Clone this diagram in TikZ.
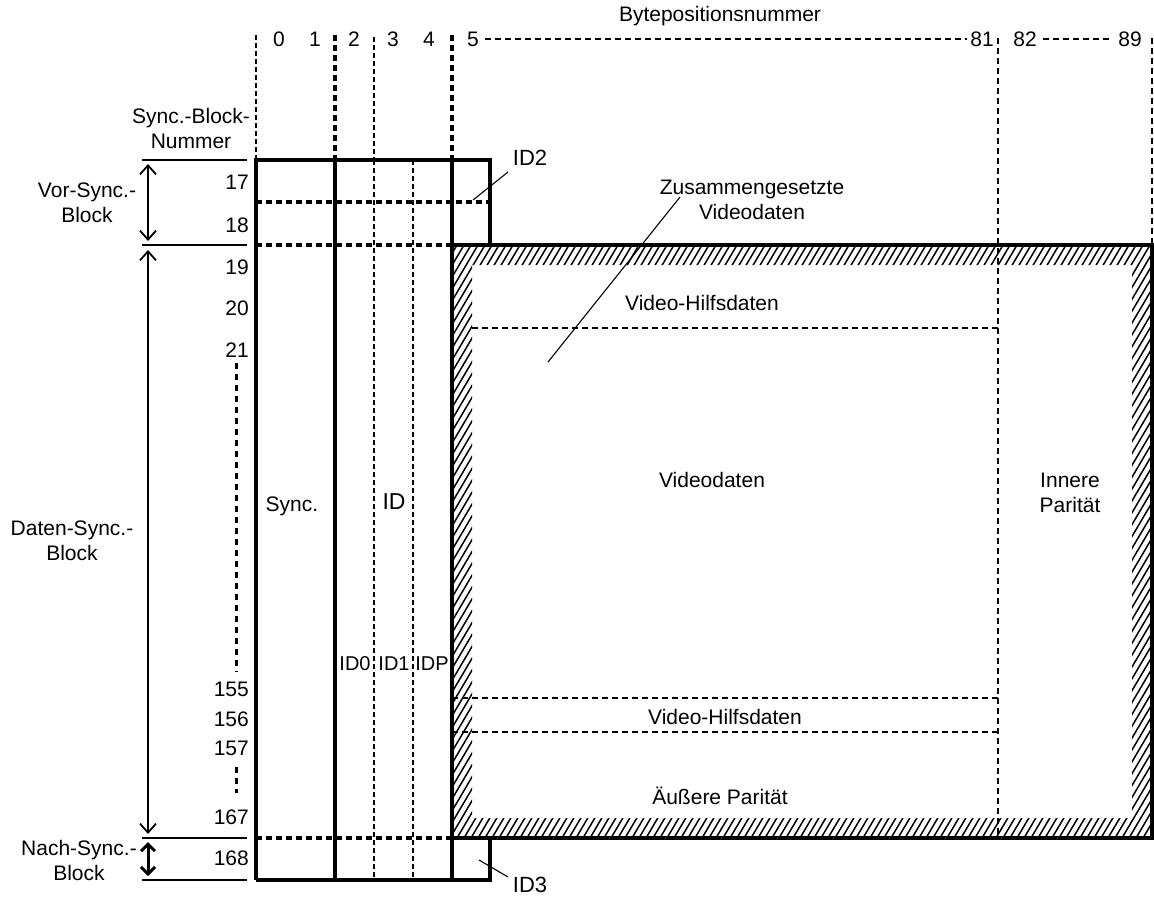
\documentclass[tikz,border=0pt]{standalone}
\usepackage{fontspec}
\setmainfont{Liberation Sans}
\usetikzlibrary{arrows.meta}
\begin{document}
\begin{tikzpicture}[x=1pt,y=-1pt,
  lbl/.style={font=\fontsize{21}{25}\selectfont, inner sep=0pt, align=center},
  num/.style={font=\fontsize{21}{25}\selectfont, inner sep=0pt, anchor=east},
  thickln/.style={line width=3.8pt},
  thinln/.style={line width=1.4pt},
  thindash/.style={line width=1.5pt, dash pattern=on 5pt off 3pt},
  meddash/.style={line width=2.2pt, dash pattern=on 6pt off 4pt},
  thkdash/.style={line width=3.1pt, dash pattern=on 6pt off 4pt},
  dotmark/.style={line width=3pt, dash pattern=on 6pt off 5pt},
  hatchln/.style={line width=1.5pt},
  arr/.style={line width=1.8pt, {Straight Barb[length=9pt,width=16pt]}-{Straight Barb[length=9pt,width=16pt]}},
  arrb/.style={line width=3pt, {Straight Barb[length=7pt,width=14pt]}-{Straight Barb[length=7pt,width=14pt]}},
  leader/.style={line width=1.1pt}]
\useasboundingbox (0,0) rectangle (1154,899);

% ---------- hatched border ----------
\begin{scope}[even odd rule]
  \clip (452,245) rectangle (1152,838) (472,265) rectangle (1132,818);
  \foreach \i in {0,...,152} { \draw[hatchln] ({100+\i*7},838) -- ++(350,-593); }
\end{scope}

% ---------- header ----------
\node[lbl] (bpn) at (720,16) {Bytepositionsnummer};
\node[lbl] (c0) at (279,39) {0};
\node[lbl] (c1) at (315,39) {1};
\node[lbl] (c2) at (354,39) {2};
\node[lbl] (c3) at (393,39) {3};
\node[lbl] (c4) at (429,39) {4};
\node[lbl] (c5) at (473,39) {5};
\node[lbl] (c81) at (982,39) {81};
\node[lbl] (c82) at (1025,39) {82};
\node[lbl] (c89) at (1130,39) {89};
\draw[meddash,line width=1.8pt] ([xshift=6pt]c5.east) -- ([xshift=-3pt]c81.west);
\draw[meddash,line width=1.8pt] ([xshift=6pt]c82.east) -- ([xshift=-6pt]c89.west);

% header verticals
\draw[thindash] (256,35) -- (256,160);
\draw[thkdash] (335,35) -- (335,160);
\draw[thindash] (374,37) -- (374,160);
\draw[thkdash] (452,35) -- (452,160);
\draw[meddash] (998,38) -- (998,838);
\draw[meddash] (1152,38) -- (1152,245);

% ---------- sync block number column ----------
\node[lbl] (sbn) at (191,128) {Sync.-Block-\\Nummer};
\draw[thinln] (142,160) -- (247,160);
\draw[thinln] (142,245) -- (247,245);
\draw[thinln] (142,838) -- (247,838);
\draw[thinln] (142,880) -- (247,880);

\node[num] (n17) at (249,182) {17};
\node[num] (n18) at (249,225) {18};
\node[num] (n19) at (249,267) {19};
\node[num] (n20) at (249,308) {20};
\node[num] (n21) at (249,350) {21};
\node[num] (n155) at (249,689) {155};
\node[num] (n156) at (249,719) {156};
\node[num] (n157) at (249,748) {157};
\node[num] (n167) at (249,817) {167};
\node[num] (n168) at (249,858) {168};
\draw[dotmark] (236,363) -- (236,672);
\draw[dotmark] (236,767) -- (236,793);

% left labels and arrows
\node[lbl] (vor) at (87,203) {Vor-Sync.-\\Block};
\node[lbl] (daten) at (72,541) {Daten-Sync.-\\Block};
\node[lbl] (nach) at (79,860) {Nach-Sync.-\\Block};
\coordinate (va) at (148,164);
\coordinate (vb) at (148,241);
\coordinate (da) at (148,250);
\coordinate (db) at (148,834);
\coordinate (na) at (148,842);
\coordinate (nb) at (148,876);
\draw[arr] (va) -- (vb);
\draw[arr] (da) -- (db);
\draw[arrb] (na) -- (nb);

% ---------- sync / ID columns ----------
\draw[thindash] (374,160) -- (374,880);
\draw[thindash] (413,160) -- (413,880);
\draw[thkdash] (256,202) -- (490,202);
\draw[thkdash] (256,245) -- (452,245);
\draw[thkdash] (256,838) -- (452,838);
\draw[thickln] (256,880) -- (256,160) -- (490,160) -- (490,245);
\draw[thickln] (490,838) -- (490,880) -- (256,880);
\draw[thickln] (335,160) -- (335,880);
\draw[thickln] (452,160) -- (452,880);

\node[lbl] (sync) at (292,506) {Sync.};
\node[lbl,font=\fontsize{23}{27}\selectfont] (id) at (394,502) {ID};
\node[lbl,font=\fontsize{20}{24}\selectfont] (id0) at (355,664) {ID0};
\node[lbl,font=\fontsize{20}{24}\selectfont] (id1) at (394,664) {ID1};
\node[lbl,font=\fontsize{20}{24}\selectfont] (idp) at (432,664) {IDP};

% ID2 / ID3
\node[lbl,font=\fontsize{22}{26}\selectfont] (id2) at (530,158) {ID2};
\node[lbl,font=\fontsize{22}{26}\selectfont] (id3) at (530,885) {ID3};
\coordinate (id2p) at (473,200);
\coordinate (id2q) at (508,172);
\coordinate (id3p) at (479,860);
\coordinate (id3q) at (508,877);
\draw[leader] (id2p) -- (id2q);
\draw[leader] (id3p) -- (id3q);

% ---------- data area ----------
\draw[thickln] (452,245) -- (1152,245) -- (1152,838) -- (452,838);
\draw[meddash,line width=1.9pt] (472,328) -- (998,328);
\draw[meddash,line width=1.9pt] (452,698) -- (998,698);
\draw[meddash,line width=1.9pt] (452,732) -- (998,732);

\node[lbl] (zus) at (752,200) {Zusammengesetzte\\Videodaten};
\coordinate (zp) at (548,362);
\coordinate (zq) at (680,197);
\draw[leader] (zp) -- (zq);

\node[lbl] (vh1) at (702,303) {Video-Hilfsdaten};
\node[lbl] (vd) at (712,480) {Videodaten};
\node[lbl] (vh2) at (725,717) {Video-Hilfsdaten};
\node[lbl] (aeu) at (720,796) {Äußere Parität};
\node[lbl] (inn) at (1070,493) {Innere\\Parität};
\end{tikzpicture}
\end{document}
